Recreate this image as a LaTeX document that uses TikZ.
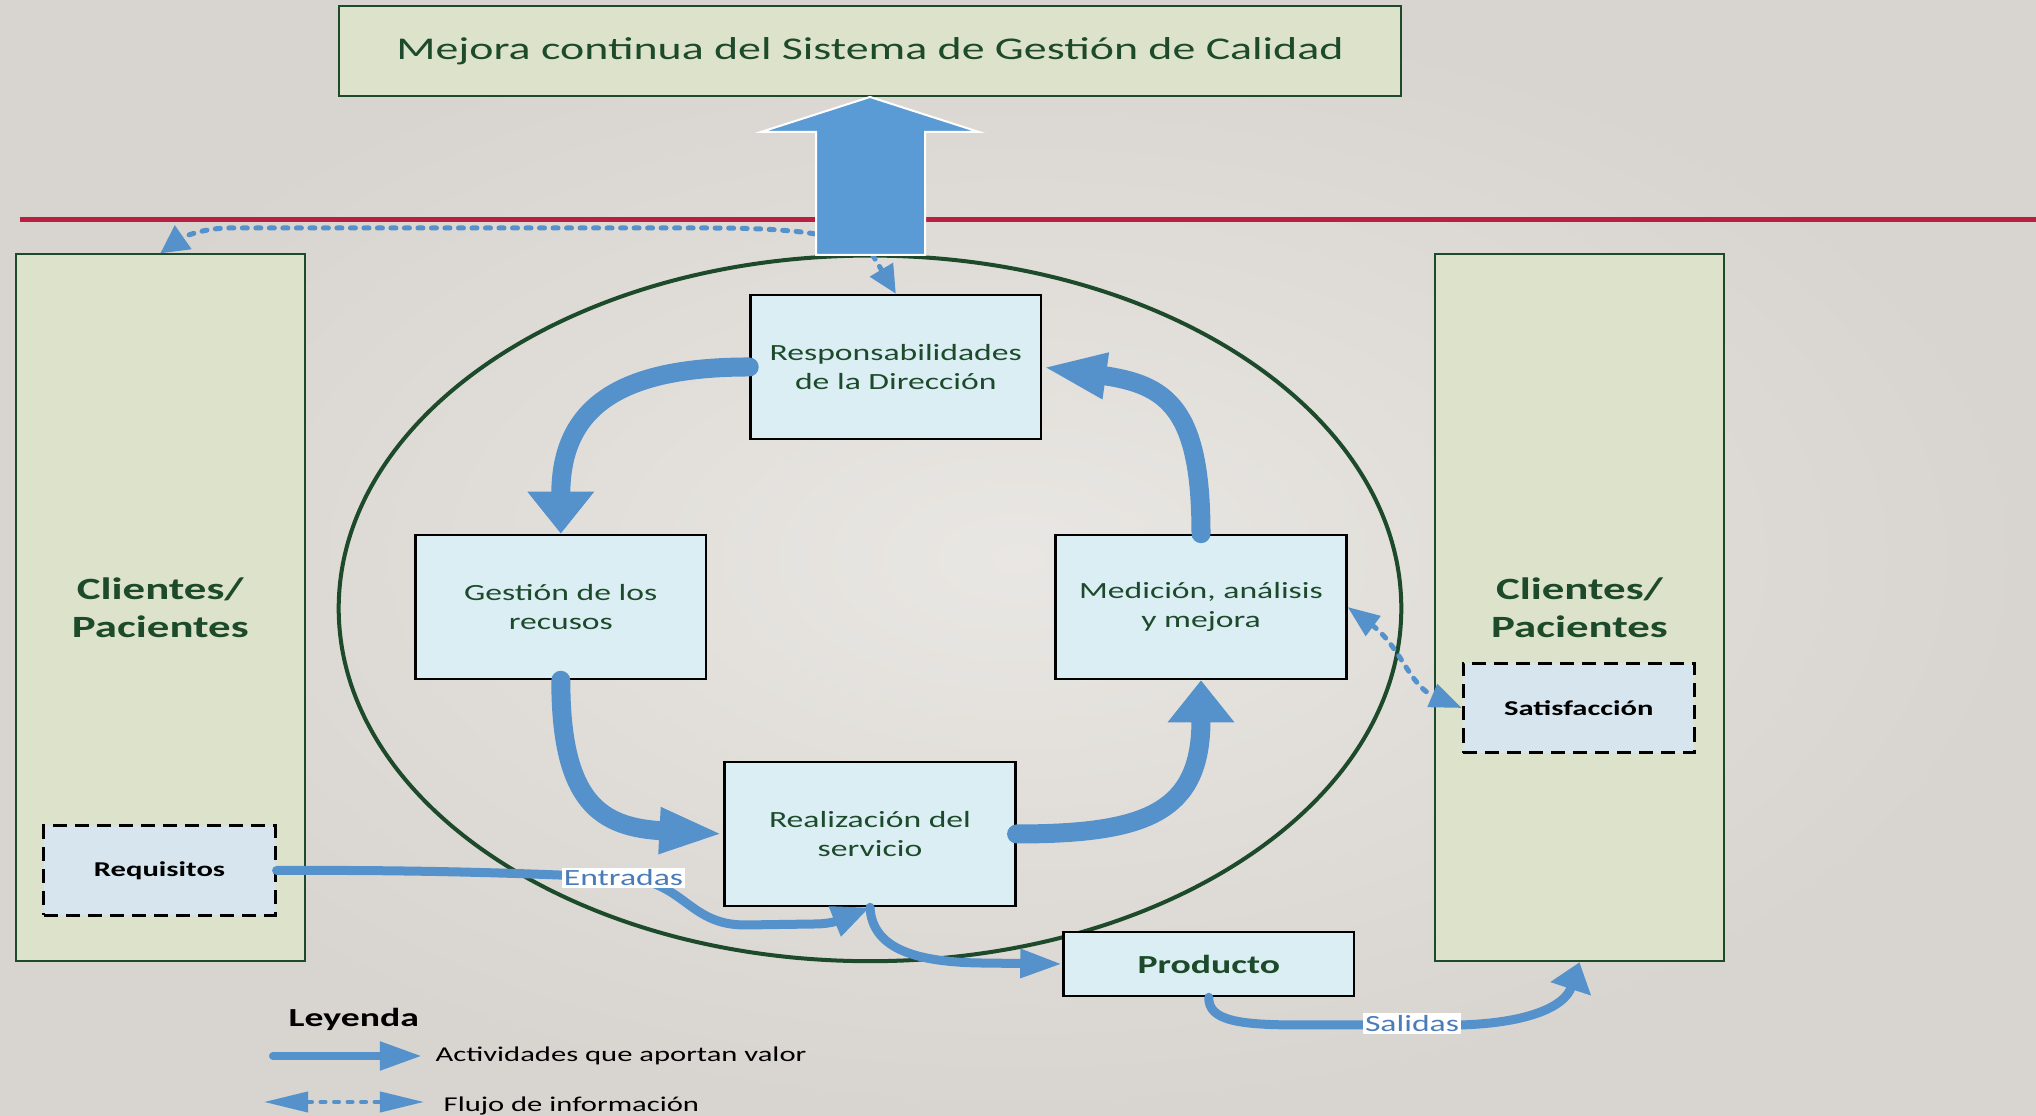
\documentclass[tikz,border=0pt]{standalone}
\usepackage{fontspec}
\setmainfont{Carlito}[FakeStretch=1.45]
\usetikzlibrary{arrows.meta}

\definecolor{azul}{HTML}{5591CB}
\definecolor{azulgrande}{HTML}{5B9BD5}
\definecolor{azultexto}{HTML}{4A7DB8}
\definecolor{celeste}{HTML}{DAEEF3}
\definecolor{celestegris}{HTML}{D7E6EE}
\definecolor{verdeclaro}{HTML}{DDE3CB}
\definecolor{verdeosc}{HTML}{1C4A2A}
\definecolor{rojo}{HTML}{BC1E42}
\definecolor{fondoclaro}{HTML}{E9E7E3}
\definecolor{fondoosc}{HTML}{D8D4CF}

\begin{document}
\begin{tikzpicture}[x=0.01cm, y=0.01cm,
    caja/.style={draw=black, line width=0.025cm, fill=celeste, text=verdeosc, align=center,
      minimum width=2.905cm, minimum height=1.44cm, inner sep=0pt, font=\fontsize{6.6}{8}\selectfont},
    columna/.style={draw=verdeosc, line width=0.02cm, fill=verdeclaro, text=verdeosc, align=center,
      minimum width=2.894cm, minimum height=7.065cm, font=\bfseries\fontsize{8.8}{10.7}\selectfont},
    discont/.style={draw=black, line width=0.03cm, dash pattern=on 0.14cm off 0.08cm, fill=celestegris,
      minimum width=2.31cm, minimum height=0.89cm, font=\bfseries\fontsize{6}{7}\selectfont},
    etiqueta/.style={fill=white, text=azultexto, inner sep=0.6pt, font=\fontsize{6.6}{7.7}\selectfont},
    leyendatxt/.style={anchor=west, inner sep=0pt, font=\fontsize{6}{7}\selectfont},
    proceso/.style={draw=azul, line width=0.19cm, line cap=round},
    flujo/.style={draw=azul, line width=0.09cm, line cap=round},
    info/.style={draw=azul, line width=0.05cm, line cap=round, dash pattern=on 0.05cm off 0.085cm},
    puntav/.style={-{Triangle[width=0.64cm,length=0.42cm]}},
    puntah/.style={-{Triangle[width=0.42cm,length=0.64cm]}}]

  % Fondo
  \useasboundingbox (0,0) rectangle (2036,1116);
  \shade[inner color=fondoclaro, outer color=fondoosc] (0,0) rectangle (2036,1116);

  % Mejora continua
  \node[draw=verdeosc, line width=0.02cm, fill=verdeclaro, text=verdeosc, minimum width=10.61cm,
    minimum height=0.9cm, font=\fontsize{9}{11}\selectfont] (mejora) at (870,1064.7)
    {Mejora continua del Sistema de Gestión de Calidad};
  \draw[rojo, line width=0.05cm] (19.5,896.5) -- (2036,896.5);

  % Sistema
  \draw[verdeosc, line width=0.04cm] (870,507.6) ellipse [x radius=5.31cm, y radius=3.526cm];

  % Clientes
  \node[columna] (izq) at (160.3,508.2) {Clientes/\\Pacientes};
  \node[columna] (der) at (1579.5,508.2) {Clientes/\\Pacientes};
  \node[discont] (requisitos) at (159.5,245.5) {Requisitos};
  \node[discont] (satisfaccion) at (1578.8,408) {Satisfacción};

  % Procesos
  \node[caja] (resp) at (895.8,749) {Responsabilidades\\de la Dirección};
  \node[caja] (gestion) at (560.8,509) {Gestión de los\\recusos};
  \node[caja] (medicion) at (1201,509) {Medición, análisis\\y mejora};
  \node[caja] (realizacion) at (870,282) {Realización del\\servicio};
  \node[caja, minimum height=0.64cm, font=\bfseries\fontsize{7.4}{9}\selectfont] (producto) at (1208.8,152) {Producto};

  % Ciclo
  \draw[proceso, puntav] (resp.west) to[out=180, in=90, looseness=1.3] (gestion.north);
  \draw[proceso, puntah] (gestion.south) to[out=-90, in=177, looseness=1.4] (realizacion.west);
  \draw[proceso, puntav] (realizacion.east) to[out=0, in=-90, looseness=1.4] (medicion.south);
  \draw[proceso, puntah] (medicion.north) to[out=90, in=-8, looseness=1.4] (resp.east);

  % Entradas y salidas
  \draw[flujo, -{Triangle[width=0.3cm,length=0.38cm]}] (requisitos.east) .. controls (400,246) and (500,244) .. (630,238)
    .. controls (685,232) and (690,191) .. (745,191) -- (815,192) to[out=0, in=202] (realizacion.south);
  \draw[flujo, -{Triangle[width=0.27cm,length=0.42cm]}] (realizacion.south) .. controls (872,170) and (910,154) .. (980,153)
    -- (producto.west);
  \draw[flujo, -{Triangle[width=0.41cm,length=0.28cm]}] (producto.south) .. controls (1208,95) and (1240,91) .. (1300,91)
    -- (1460,91) .. controls (1530,93) and (1565,110) .. (der.south);
  \node[etiqueta] (entradas) at (623.5,238) {Entradas};
  \node[etiqueta] (salidas) at (1412,92.5) {Salidas};

  % Flujo de informacion
  \draw[info, {Triangle[width=0.26cm,length=0.28cm]}-{Triangle[width=0.28cm,length=0.28cm]}] (resp.north) -- (872,862)
    .. controls (840,885) and (780,888) .. (700,888) -- (230,888) .. controls (205,888) and (185,880) .. (izq.north);
  \draw[info, {Triangle[width=0.24cm,length=0.32cm]}-{Triangle[width=0.24cm,length=0.32cm]}] (medicion.east)
    .. controls (1400,470) and (1410,430) .. (satisfaccion.west);

  % Flecha de mejora
  \draw[white, line width=0.02cm, fill=azulgrande] (816,861) -- (816,984) -- (761,984) -- (870,1019)
    -- (979,984) -- (925,984) -- (925,861) -- cycle;

  % Leyenda
  \node[leyendatxt, font=\bfseries\fontsize{7.4}{9}\selectfont] (leyenda) at (288,97) {Leyenda};
  \coordinate (v1) at (273,60);
  \coordinate (v2) at (422,60);
  \draw[flujo, line width=0.08cm, -{Triangle[width=0.27cm,length=0.42cm]}] (v1) -- (v2);
  \node[leyendatxt] (valor) at (435,60) {Actividades que aportan valor};
  \coordinate (f1) at (264,14);
  \coordinate (f2) at (424,14);
  \draw[info, line width=0.04cm, {Triangle[width=0.2cm,length=0.44cm]}-{Triangle[width=0.2cm,length=0.44cm]}] (f1) -- (f2);
  \node[leyendatxt] (flujoinfo) at (443,10) {Flujo de información};
\end{tikzpicture}
\end{document}
